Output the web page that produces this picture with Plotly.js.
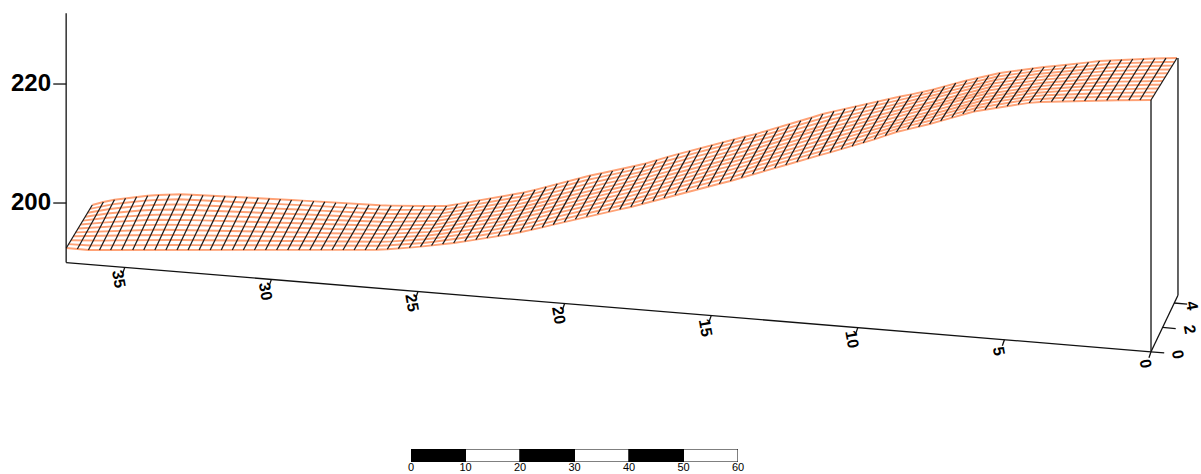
<!DOCTYPE html>
<html><head><meta charset="utf-8">
<script src="https://cdn.plot.ly/plotly-3.0.1.min.js"></script>
<style>html,body{margin:0;padding:0;background:#fff;overflow:hidden}#c{width:1201px;height:474px}</style>
</head><body><div id="c"></div>
<script>
// Apparent elevation of the near edge of the surface, one value per grid column (far left to right)
const frontElev = [192.44,192.27,192.10,192.10,192.10,192.10,192.10,192.10,192.10,192.10,192.10,192.10,192.10,192.10,192.10,192.10,192.10,192.10,192.10,192.10,192.10,192.10,192.10,192.10,192.10,192.10,192.10,192.10,192.15,192.24,192.34,192.51,192.67,192.86,193.08,193.28,193.56,193.83,194.12,194.42,194.74,195.08,195.46,195.90,196.37,196.81,197.28,197.73,198.15,198.54,198.93,199.33,199.83,200.34,200.84,201.35,201.85,202.35,202.81,203.24,203.70,204.27,204.84,205.38,205.88,206.39,206.89,207.45,208.00,208.52,209.04,209.55,210.09,210.71,211.33,211.94,212.39,212.81,213.28,213.82,214.37,214.96,215.38,215.68,216.00,216.30,216.59,216.84,216.98,217.04,217.11,217.14,217.18,217.21,217.24,217.28,217.30,217.31,217.31];
// Apparent elevation of the far edge of the surface
const backElev = [199.67,200.17,200.54,200.79,201.04,201.23,201.35,201.45,201.48,201.40,201.31,201.23,201.16,201.08,201.00,200.88,200.76,200.64,200.52,200.41,200.30,200.19,200.05,199.88,199.75,199.68,199.62,199.56,199.50,199.50,199.50,199.50,199.50,199.82,200.14,200.46,200.79,201.11,201.45,201.77,202.22,202.72,203.24,203.70,204.14,204.62,205.01,205.38,205.77,206.22,206.64,207.23,207.77,208.27,208.77,209.28,209.75,210.25,210.72,211.18,211.63,212.15,212.69,213.28,213.83,214.37,214.96,215.40,215.83,216.30,216.72,217.13,217.51,217.90,218.27,218.66,219.08,219.60,220.14,220.59,221.01,221.43,221.85,222.12,222.41,222.69,222.86,223.03,223.20,223.40,223.63,223.87,223.97,224.09,224.20,224.25,224.29,224.34,224.37];
const gridStep = 0.3775;      // distance between grid columns
const depthShift = 0.887;     // distance offset of the far edge in the oblique view
const rowCount = 11;          // mesh rows between near and far edge
const distTicks = [35,30,25,20,15,10,5,0];
const elevTicks = [220,200];
const depthTicks = [0,2,4];
const scaleSegments = [5,15,25,35,45,55];
const scaleLabels = ['0','10','20','30','40','50','60'];
const scaleTicks = [0,10,20,30,40,50,60];

const N = frontElev.length;
const station = i => (N - 1 - i) * gridStep;

// mesh
const colX = [], colY = [], rowX = [], rowY = [];
for (let i = 0; i < N; i++) {
  colX.push(station(i), station(i) - depthShift, null);
  colY.push(frontElev[i], backElev[i], null);
}
for (let r = 0; r <= rowCount; r++) {
  const t = r / rowCount;
  for (let i = 0; i < N; i++) {
    rowX.push(station(i) - depthShift * t);
    rowY.push(frontElev[i] + (backElev[i] - frontElev[i]) * t);
  }
  rowX.push(null); rowY.push(null);
}

// frame of the 3D box: elevation at the foot of each corner
const leftDist = 37.0, baseLeft = 190, baseRight = 175, axisTop = 231.9, farFoot = 184.5, farDist = -0.92;
const baseAt = d => baseRight + (baseLeft - baseRight) * d / leftDist;
const fX = [leftDist,leftDist,null,leftDist,0,null,0,0,null,0,farDist,null,farDist,farDist,null];
const fY = [axisTop,baseLeft,null,baseLeft,baseRight,null,baseRight,frontElev[N-1],null,baseRight,farFoot,null,farFoot,backElev[N-1],null];
// ticks
const anns = [];
const txt = (x,y,text,size,angle,xshift) => anns.push({x,y,xref:'x',yref:'y',text,showarrow:false,textangle:angle||0,xshift:xshift||0,
  font:{family:'"Liberation Sans",Arial,sans-serif',size,color:'#000',weight:700},xanchor:'center',yanchor:'middle'});
for (const z of elevTicks) {
  fX.push(leftDist, leftDist + 0.44, null); fY.push(z, z, null);
  txt(leftDist + 1.2, z + 0.25, String(z), 24);
}
for (const d of distTicks) {
  const b = baseAt(d);
  fX.push(d, d + 0.07, null); fY.push(b, b - 1.0, null);
  txt(d + 0.19, b - 2.0, String(d), 16, 80);
}
for (const w of depthTicks) {
  const s = w / 4 * 0.784, z = baseRight + w / 4 * 8.2;
  fX.push(-s, -s - 0.45, null); fY.push(z, z - 0.2, null);
  txt(-s - 0.45, z - 0.4, String(w), 16, 80, w === 4 ? 5 : 14);
}

const traces = [
  {x:rowX,y:rowY,mode:'lines',line:{color:'#ffa276',width:1.9},hoverinfo:'skip',connectgaps:false},
  {x:colX,y:colY,mode:'lines',line:{color:'#1a1a1a',width:1.25},hoverinfo:'skip',connectgaps:false},
  {x:fX,y:fY,mode:'lines',line:{color:'#111',width:1.3},hoverinfo:'skip',connectgaps:false},
  {type:'bar',x:scaleSegments,y:scaleSegments.map(()=>1),width:10,xaxis:'x2',yaxis:'y2',
   marker:{color:scaleSegments.map((_,i)=>i%2?'#fff':'#000'),line:{color:'#000',width:1}},hoverinfo:'skip'}
];
const layout = {
  width:1201,height:474,margin:{l:0,r:0,t:0,b:0},paper_bgcolor:'#fff',plot_bgcolor:'rgba(0,0,0,0)',showlegend:false,
  xaxis:{range:[39.256,-1.705],visible:false,fixedrange:true},
  yaxis:{range:[154.46,234.12],visible:false,fixedrange:true},
  xaxis2:{domain:[411/1201,738/1201],range:[0,60],anchor:'y2',showgrid:false,zeroline:false,showline:false,ticks:'',
    tickmode:'array',tickvals:scaleTicks,ticktext:scaleLabels,ticklabelstandoff:-3,
    tickfont:{family:'"Liberation Sans",Arial,sans-serif',size:11,color:'#000'},fixedrange:true},
  yaxis2:{domain:[12/474,25/474],range:[0,1],anchor:'x2',visible:false,fixedrange:true},
  annotations:anns,bargap:0
};
Plotly.newPlot('c',traces,layout,{staticPlot:true,displayModeBar:false});
</script></body></html>
